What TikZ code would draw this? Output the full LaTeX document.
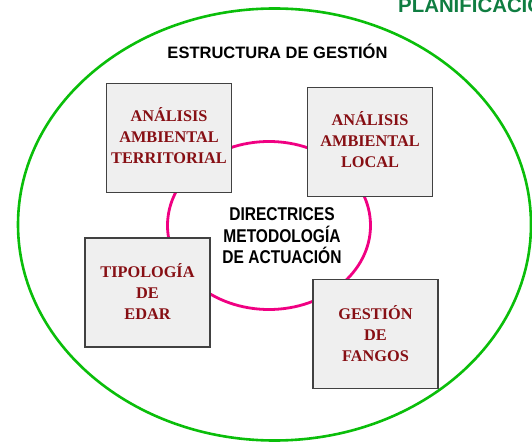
\documentclass[tikz,border=0pt]{standalone}
\usepackage{fontspec}
\usepackage{graphicx}
\setmainfont{Liberation Serif}
\setsansfont{Liberation Sans}
\newcommand{\narrowline}[1]{\scalebox{0.84}[1]{#1}}
\definecolor{ringgreen}{RGB}{10,190,10}
\definecolor{ringpink}{RGB}{240,0,130}
\definecolor{boxred}{RGB}{135,15,20}
\definecolor{titlegreen}{RGB}{15,125,65}
\definecolor{boxfill}{RGB}{239,239,239}
\definecolor{boxline}{RGB}{65,65,65}
\begin{document}
\begin{tikzpicture}[x=1pt,y=-1pt,
  topicbox/.style={draw=boxline, line width=1.1pt, fill=boxfill, inner sep=0pt,
                   minimum width=125pt, minimum height=109pt},
  topictext/.style={text=boxred, align=center, inner sep=0pt,
                    font=\bfseries\fontsize{16.3}{21}\selectfont},
  headtext/.style={inner sep=0pt, font=\sffamily\bfseries\fontsize{16.5}{20}\selectfont},
  coretext/.style={inner sep=0pt, align=center, font=\sffamily\bfseries\fontsize{18.5}{21.5}\selectfont},
  titletext/.style={inner sep=0pt, text=titlegreen, font=\sffamily\bfseries\fontsize{20.4}{22}\selectfont}]
\useasboundingbox (0,0) rectangle (532,443);
\clip (0,0) rectangle (532,443);
% outer ring
\draw[ringgreen, line width=2.6pt] (274.5,224.5) ellipse [x radius=256.5pt, y radius=216pt];
% inner ring
\draw[ringpink, line width=2.8pt] (269,225.5) ellipse [x radius=101.5pt, y radius=84pt];
% title
\node[titletext, anchor=base west] (title) at (398,12.7) {PLANIFICACIÓN};
% heading
\node[headtext, anchor=base] (head) at (277.5,58.7) {ESTRUCTURA DE GESTIÓN};
% boxes
\node[topicbox] (b1) at (169,138) {};
\node[topicbox] (b2) at (370,142) {};
\node[topicbox] (b3) at (147.5,292.5) {};
\node[topicbox] (b4) at (375.5,334) {};
\node[topictext] (t1) at ([yshift=2pt]b1.center) {ANÁLISIS\\AMBIENTAL\\TERRITORIAL};
\node[topictext] (t2) at ([yshift=2pt]b2.center) {ANÁLISIS\\AMBIENTAL\\LOCAL};
\node[topictext] (t3) at ([yshift=1pt]b3.center) {TIPOLOGÍA\\DE\\EDAR};
\node[topictext] (t4) at ([yshift=0pt]b4.center) {GESTIÓN\\DE\\FANGOS};
% core
\node[coretext] (core) at (282,236) {\narrowline{DIRECTRICES}\\\narrowline{METODOLOGÍA}\\\narrowline{DE ACTUACIÓN}};
\end{tikzpicture}
\end{document}
